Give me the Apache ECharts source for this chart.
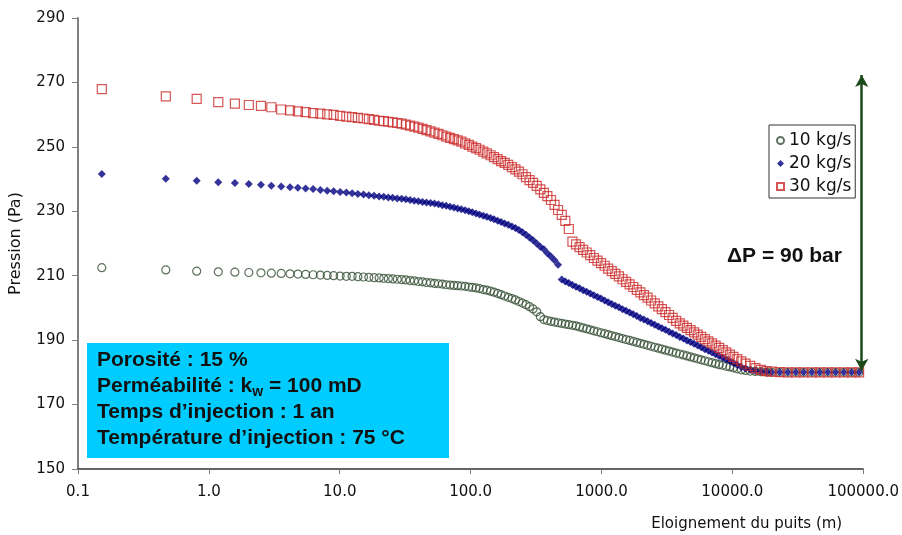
<!DOCTYPE html>
<html>
<head>
<meta charset="utf-8">
<script src="https://cdn.jsdelivr.net/npm/echarts@6/dist/echarts.min.js"></script>
<style>
html,body{margin:0;padding:0;background:#fff;}
#chart{width:902px;height:535px;}
</style>
</head>
<body>
<div id="chart"></div>
<script>
// Distance from the well (m) - shared mesh
const distances = [
  0.152, 0.469, 0.807, 1.18, 1.58, 2.02, 2.5, 3.0, 3.57, 4.17, 4.79, 5.49, 6.26, 7.11, 8.02, 8.98, 10.07, 11.23, 12.43, 13.76, 15.2, 16.7, 18.3, 20.0,
  21.7, 23.5, 25.4, 27.5, 29.7, 32.0, 34.5, 37.1, 39.9, 42.9,
  46.0, 49.4, 53.0, 56.8, 60.8, 65.1, 69.7, 74.5, 79.6, 85.0,
  90.8, 96.9, 103, 110, 117, 125, 133, 142, 151, 161,
  171, 182, 194, 207, 220, 234, 249, 265, 282, 300,
  320, 341, 363, 386, 411, 438, 466, 497, 529, 563,
  600, 639, 680, 724, 771, 821, 875, 932, 992, 1057,
  1125, 1198, 1276, 1359, 1448, 1542, 1642, 1749, 1862, 1983,
  2112, 2250, 2396, 2552, 2718, 2894, 3082, 3283, 3496, 3723,
  3965, 4223, 4497, 4790, 5101, 5433, 5786, 6162, 6563, 6989,
  7443, 7927, 8443, 8991, 9576,
  10200, 10900, 11700, 12600, 13700, 15000, 16500, 18200,
  20000, 23000, 26500, 30500, 35000, 40500, 46500, 53500, 61500, 71000, 81500, 93000
];
// Pressure, 10 kg/s
const p10 = [
  212.5, 211.8, 211.4, 211.2, 211.1, 211.0, 210.9, 210.8, 210.7, 210.6, 210.5, 210.4, 210.3, 210.2, 210.1, 210.0, 209.9, 209.8, 209.8, 209.7, 209.6, 209.5, 209.4, 209.3,
  209.2, 209.1, 209.0, 208.9, 208.8, 208.7, 208.5, 208.4, 208.2, 208.1,
  207.9, 207.8, 207.6, 207.5, 207.4, 207.2, 207.1, 207.0, 206.9, 206.8,
  206.7, 206.5, 206.4, 206.2, 206.0, 205.7, 205.5, 205.2, 204.9, 204.5,
  204.1, 203.7, 203.3, 202.9, 202.5, 202.0, 201.5, 201.0, 200.4, 199.7,
  198.8, 197.3, 196.4, 196.1, 195.8, 195.6, 195.4, 195.2, 195.0, 194.8,
  194.6, 194.4, 194.1, 193.8, 193.5, 193.2, 192.9, 192.6, 192.3, 192.0,
  191.7, 191.4, 191.1, 190.8, 190.5, 190.2, 189.9, 189.6, 189.3, 189.0,
  188.7, 188.4, 188.1, 187.8, 187.5, 187.2, 186.9, 186.6, 186.3, 186.0,
  185.7, 185.4, 185.1, 184.8, 184.5, 184.2, 183.9, 183.6, 183.3, 183.0,
  182.7, 182.4, 182.2, 181.9, 181.7,
  181.4, 181.1, 180.8, 180.6, 180.4, 180.3, 180.2, 180.1,
  180.0, 180.0, 180.0, 180.0, 180.0, 180.0, 180.0, 180.0, 180.0, 180.0, 180.0, 180.0
];
// Pressure, 20 kg/s
const p20 = [
  241.6, 240.1, 239.5, 239.0, 238.8, 238.5, 238.2, 237.9, 237.7, 237.5, 237.3, 237.1, 236.9, 236.6, 236.4, 236.2, 236.0, 235.8, 235.6, 235.4, 235.2, 235.0, 234.8, 234.6,
  234.5, 234.3, 234.2, 234.0, 233.9, 233.7, 233.5, 233.3, 233.1, 232.9,
  232.7, 232.6, 232.4, 232.2, 231.9, 231.7, 231.4, 231.2, 230.9, 230.6,
  230.3, 230.0, 229.7, 229.3, 229.0, 228.6, 228.3, 227.9, 227.5, 227.1,
  226.7, 226.2, 225.8, 225.3, 224.8, 224.2, 223.5, 222.7, 221.9, 221.0,
  220.0, 219.0, 218.2, 217.0, 216.0, 214.8, 213.4, 208.8, 208.2, 207.7,
  207.1, 206.6, 206.1, 205.5, 205.0, 204.5, 203.9, 203.4, 202.9, 202.3,
  201.8, 201.2, 200.7, 200.2, 199.6, 199.1, 198.6, 198.0, 197.5, 196.9,
  196.4, 195.9, 195.3, 194.8, 194.2, 193.7, 193.2, 192.6, 192.1, 191.6,
  191.0, 190.5, 189.9, 189.4, 188.9, 188.3, 187.8, 187.2, 186.7, 186.2,
  185.6, 185.1, 184.5, 184.0, 183.5,
  182.9, 182.3, 181.7, 181.2, 180.8, 180.5, 180.3, 180.15,
  180.05, 180.0, 180.0, 180.0, 180.0, 180.0, 180.0, 180.0, 180.0, 180.0, 180.0, 180.0
];
// Pressure, 30 kg/s
const p30 = [
  267.9, 265.7, 264.9, 263.9, 263.4, 263.0, 262.7, 262.3, 261.6, 261.3, 261.0, 260.8, 260.5, 260.3, 260.1, 259.9, 259.6, 259.4, 259.2, 259.0, 258.8, 258.6, 258.4, 258.1,
  258.0, 257.8, 257.6, 257.4, 257.2, 256.9, 256.6, 256.3, 256.0, 255.6,
  255.2, 254.8, 254.4, 254.0, 253.6, 253.2, 252.8, 252.4, 252.0, 251.6,
  251.1, 250.6, 250.1, 249.6, 249.1, 248.5, 248.0, 247.4, 246.8, 246.2,
  245.6, 245.0, 244.4, 243.7, 243.0, 242.3, 241.5, 240.6, 239.7, 238.8,
  237.9, 236.8, 235.7, 234.7, 233.5, 232.0, 230.4, 228.9, 227.0, 224.5,
  220.6, 219.7, 218.9, 218.0, 217.2, 216.4, 215.5, 214.7, 213.9, 213.1,
  212.2, 211.4, 210.6, 209.8, 208.9, 208.1, 207.3, 206.5, 205.6, 204.8,
  204.0, 203.2, 202.3, 201.4, 200.5, 199.6, 198.7, 197.8, 196.9, 196.0,
  195.2, 194.5, 193.8, 193.1, 192.4, 191.7, 191.0, 190.3, 189.6, 189.0,
  188.3, 187.6, 186.9, 186.2, 185.5,
  184.8, 184.1, 183.4, 182.7, 182.0, 181.3, 180.8, 180.4,
  180.2, 180.05, 180.0, 180.0, 180.0, 180.0, 180.0, 180.0, 180.0, 180.0, 180.0, 180.0
];
const seriesNames = ['10 kg/s', '20 kg/s', '30 kg/s'];
const xTickLabels = ['0.1', '1.0', '10.0', '100.0', '1000.0', '10000.0', '100000.0'];
const yMin = 150, yMax = 290, yStep = 20;
// ΔP arrow annotation (data space)
const arrowX = 97400, arrowFrom = 180.5, arrowTo = 272.3;
const infoLines = ['Porosité : 15 %', 'Perméabilité : k', 'Temps d’injection : 1 an', 'Température d’injection : 75 °C'];

const pair = arr => distances.map((d, i) => [d, arr[i]]);
const REG = 'DejaVu Sans';
const BOLD = 'Liberation Sans';

const chart = echarts.init(document.getElementById('chart'), null, {renderer: 'canvas'});
chart.setOption({
  animation: false,
  backgroundColor: '#ffffff',
  grid: {left: 77, right: 38, top: 18, bottom: 66, containLabel: false},
  xAxis: {
    type: 'log', logBase: 10, min: 0.1, max: 100000, splitNumber: 6,
    name: 'Eloignement du puits (m)',
    nameLocation: 'end', nameGap: -21, nameMoveOverlap: false,
    nameTextStyle: {fontFamily: REG, fontSize: 15, color: '#111', align: 'right', verticalAlign: 'top', padding: [48, 0, 0, 0]},
    axisLine: {show: true, onZero: false, lineStyle: {color: '#333', width: 1.5}},
    axisTick: {show: true, inside: false, length: 5, lineStyle: {color: '#777', width: 1}},
    minorTick: {show: false},
    splitLine: {show: false},
    axisLabel: {
      fontFamily: REG, fontSize: 15, color: '#111', margin: 16,
      formatter: v => xTickLabels[Math.round(Math.log10(v)) + 1] || ''
    }
  },
  yAxis: {
    type: 'value', min: yMin, max: yMax, interval: yStep,
    name: 'Pression (Pa)', nameLocation: 'middle', nameGap: 54, nameRotate: 90,
    nameTextStyle: {fontFamily: REG, fontSize: 16, color: '#111'},
    axisLine: {show: true, lineStyle: {color: '#808080', width: 2}},
    axisTick: {show: true, inside: false, length: 6, lineStyle: {color: '#808080', width: 1}},
    splitLine: {show: false},
    axisLabel: {fontFamily: REG, fontSize: 15, color: '#111', margin: 13}
  },
  legend: {
    orient: 'vertical', left: 769, top: 125,
    padding: [7, 4, 3, 7], itemGap: 6, itemWidth: 7, itemHeight: 7,
    borderColor: '#333', borderWidth: 1, backgroundColor: '#fff',
    textStyle: {fontFamily: REG, fontSize: 17, color: '#111', lineHeight: 17},
    data: seriesNames
  },
  series: [
    {
      name: seriesNames[0], type: 'scatter', symbol: 'circle', symbolSize: 8,
      itemStyle: {color: 'rgba(255,255,255,0)', borderColor: '#354f35', borderWidth: 1.2},
      data: pair(p10), z: 2
    },
    {
      name: seriesNames[1], type: 'scatter', symbol: 'diamond', symbolSize: 8,
      itemStyle: {color: '#000080', borderWidth: 0},
      data: pair(p20), z: 3
    },
    {
      name: seriesNames[2], type: 'scatter', symbol: 'rect', symbolSize: 9,
      itemStyle: {color: 'rgba(255,255,255,0)', borderColor: '#cc2a2a', borderWidth: 1.2},
      data: pair(p30), z: 4,
      markLine: {
        silent: true, animation: false,
        symbol: ['arrow', 'arrow'], symbolSize: [10, 12],
        label: {show: false},
        lineStyle: {color: '#1b4a1b', width: 2.5, type: 'solid'},
        data: [[{coord: [arrowX, arrowFrom]}, {coord: [arrowX, arrowTo]}]]
      }
    }
  ],
  graphic: [
    {
      type: 'rect', left: 87, top: 343, z: 10,
      shape: {width: 362, height: 115},
      style: {fill: '#00ccff'}
    },
    {
      type: 'text', left: 97, top: 350, z: 11,
      style: {
        text: '{b|' + infoLines[0] + '}\n{b|' + infoLines[1] + '}{s|w}{b| = 100 mD}\n{b|' + infoLines[2] + '}\n{b|' + infoLines[3] + '}',
        rich: {
          b: {fontFamily: BOLD, fontWeight: 'bold', fontSize: 21, lineHeight: 26, fill: '#111'},
          s: {fontFamily: BOLD, fontWeight: 'bold', fontSize: 14, lineHeight: 10, verticalAlign: 'bottom', fill: '#111'}
        }
      }
    },
    {
      type: 'text', left: 727, top: 246, z: 11,
      style: {text: 'ΔP = 90 bar', fontFamily: BOLD, fontWeight: 'bold', fontSize: 21, fill: '#111'}
    }
  ]
});
</script>
</body>
</html>
